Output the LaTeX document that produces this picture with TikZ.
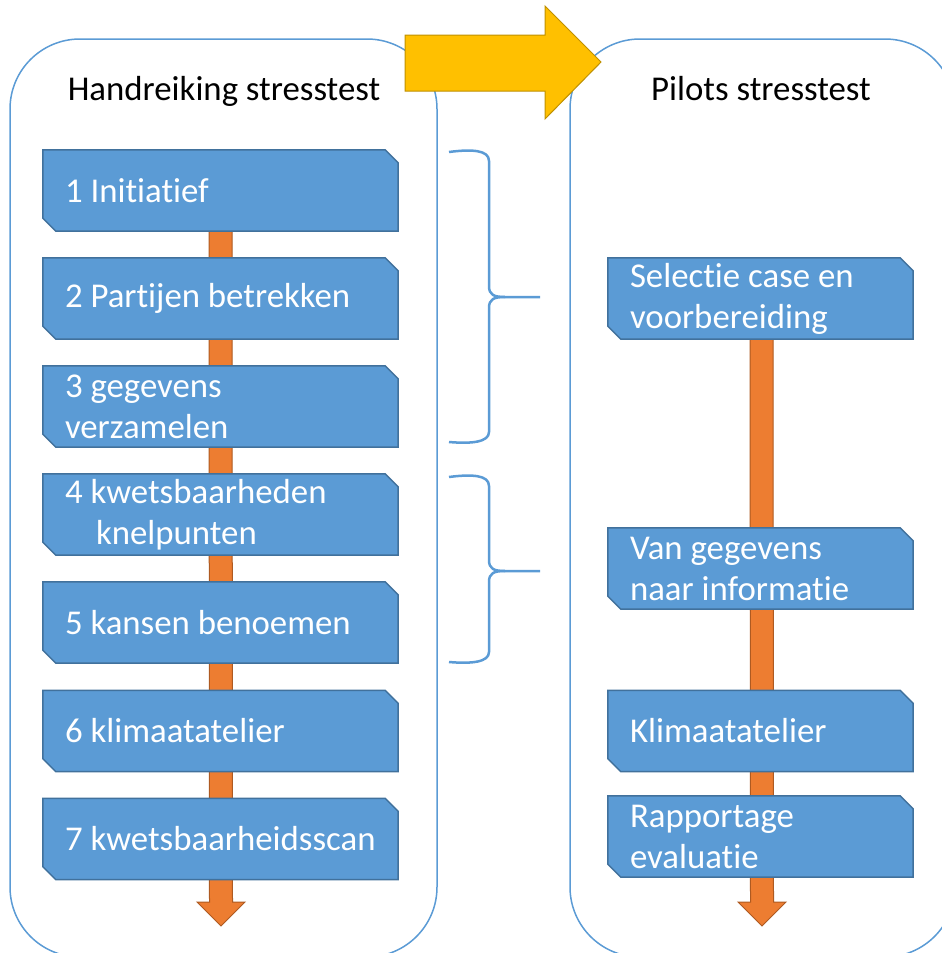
\documentclass[tikz,border=0pt]{standalone}
\usepackage{fontspec}
\setmainfont{Carlito}[Ligatures={NoCommon}]
\usetikzlibrary{backgrounds,calc}
\definecolor{boxblue}{HTML}{5B9BD5}
\definecolor{boxedge}{HTML}{41719C}
\definecolor{shaftorange}{HTML}{ED7D31}
\definecolor{shaftedge}{HTML}{AE5A21}
\definecolor{arrowyellow}{HTML}{FFC000}
\definecolor{arrowedge}{HTML}{BF9000}
\begin{document}
\begin{tikzpicture}[x=1pt,y=-1pt,
  stepbox/.style={draw=none,inner sep=0pt,minimum height=81pt,text=white,
    font=\fontsize{34.8}{41}\selectfont,align=flush left,anchor=center,
    execute at begin node={\hyphenpenalty=10000\exhyphenpenalty=10000\hbadness=10000\hfuzz=50pt}},
  leftbox/.style={stepbox,minimum width=355pt,text width=311pt},
  rightbox/.style={stepbox,minimum width=305pt,text width=261pt},
  title/.style={font=\fontsize{34.8}{41}\selectfont,text=black,inner sep=0pt},
  container/.style={draw=boxblue,line width=1.5pt,rounded corners=70pt},
  bracestyle/.style={draw=boxblue,line width=2.5pt},
  shaft/.style={fill=shaftorange,draw=shaftedge,line width=1pt},
  outline/.style={fill=boxblue,draw=boxedge,line width=1.5pt}]
\useasboundingbox (0,0) rectangle (942,953);

% titles
\node[title] (tl) at (224,91) {Handreiking stresstest};
\node[title] (tr) at (761,89) {Pilots stresstest};

% left steps
\node[leftbox] (b1) at (220.5,190.5) {1 Initiatief};
\node[leftbox] (b2) at (220.5,298.5) {2 Partijen betrekken};
\node[leftbox] (b3) at (220.5,406.5) {3 gegevens\\verzamelen};
\node[leftbox] (b4) at (220.5,514.5) {4 kwetsbaarheden\\\hspace*{31pt}knelpunten};
\node[leftbox] (b5) at (220.5,622.5) {5 kansen benoemen};
\node[leftbox] (b6) at (220.5,731) {6 klimaatatelier};
\node[leftbox] (b7) at (220.5,839) {7 kwetsbaarheidsscan};

% right steps
\node[rightbox] (r1) at (760.5,298.5) {Selectie case en\\voorbereiding};
\node[rightbox] (r2) at (760.5,568.5) {Van gegevens\\naar informatie};
\node[rightbox] (r3) at (760.5,731) {Klimaatatelier};
\node[rightbox] (r4) at (760.5,836.5) {Rapportage\\evaluatie};

\coordinate (lend) at (221,926);
\coordinate (rend) at (762,926);

\begin{pgfonlayer}{background}
  % containers
  \draw[container] (10,39) rectangle (437,957);
  \draw[container] (570,39) rectangle (955,957);
  % yellow arrow from left to right container
  \draw[fill=arrowyellow,draw=arrowedge,line width=1pt,line join=miter]
    (405,35) -- (545,35) -- (545,6) -- (601,62) -- (545,119) -- (545,91) -- (405,91) -- cycle;
  % braces
  \draw[bracestyle] (449,152) .. controls (472,149) and (489,150) .. (489,161)
    -- (489,286) .. controls (489,295) and (494,297) .. (505,297) -- (540,297);
  \draw[bracestyle] (505,297) .. controls (494,297) and (489,299) .. (489,308)
    -- (489,432) .. controls (489,442) and (472,444) .. (449,442);
  \draw[bracestyle] (449,477) .. controls (472,474) and (489,475) .. (489,486)
    -- (489,560) .. controls (489,569) and (494,571) .. (505,571) -- (540,571);
  \draw[bracestyle] (505,571) .. controls (494,571) and (489,573) .. (489,582)
    -- (489,652) .. controls (489,662) and (472,664) .. (449,662);
  % orange shafts
  \draw[shaft] ($(b1.south)+(-11.5,0)$) -- ($(lend)+(-11.5,-24)$) -- ($(lend)+(-24,-24)$)
    -- (lend) -- ($(lend)+(24,-24)$) -- ($(lend)+(11.5,-24)$) -- ($(b1.south)+(11.5,0)$) -- cycle;
  \draw[shaft] ($(r1.south)+(-10.5,0)$) -- ($(rend)+(-11.5,-24)$) -- ($(rend)+(-24,-24)$)
    -- (rend) -- ($(rend)+(24,-24)$) -- ($(rend)+(11.5,-24)$) -- ($(r1.south)+(12.5,0)$) -- cycle;
  % step box outlines
  \foreach \n in {b1,b2,b3,b4,b5,b6,b7,r1,r2,r3,r4}{
    \draw[outline] (\n.north west) -- ($(\n.north east)+(-13,0)$) -- ($(\n.north east)+(0,13)$)
      -- (\n.south east) -- ($(\n.south west)+(13,0)$) -- ($(\n.south west)+(0,-13)$) -- cycle;
  }
\end{pgfonlayer}
\end{tikzpicture}
\end{document}
